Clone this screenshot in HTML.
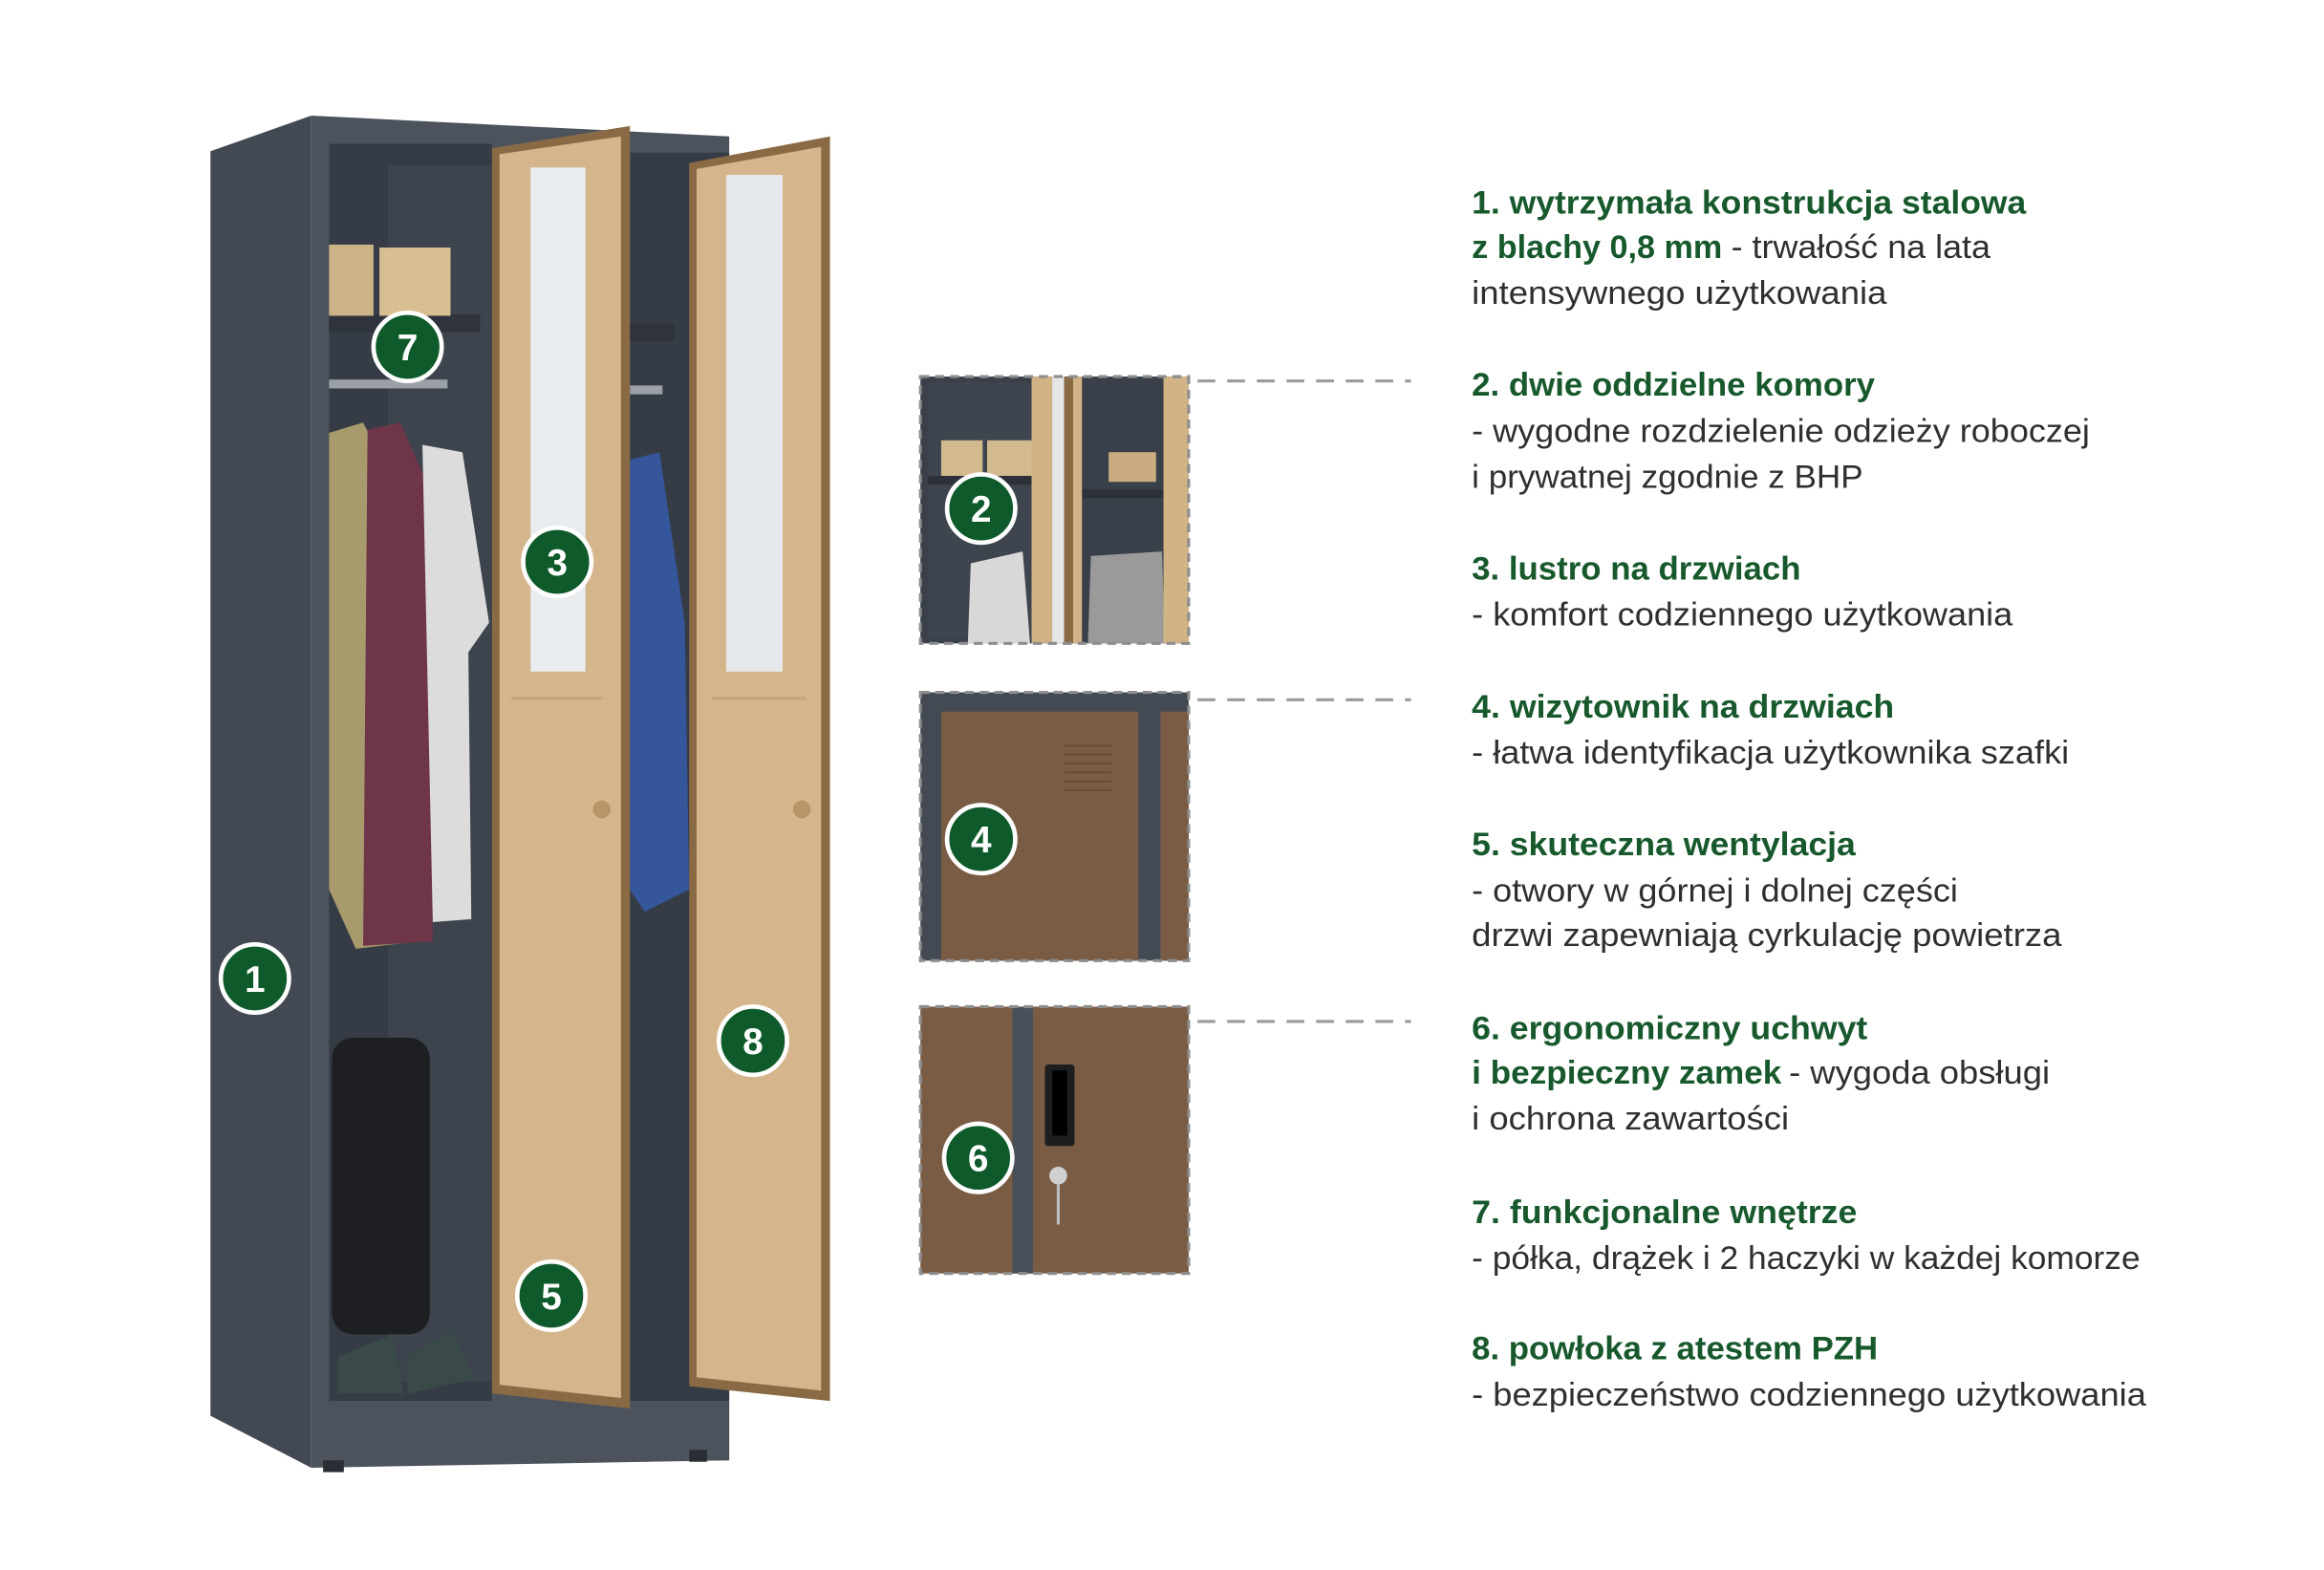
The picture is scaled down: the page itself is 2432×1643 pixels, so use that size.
<!DOCTYPE html>
<html><head><meta charset="utf-8"><style>
html,body{margin:0;padding:0;background:#fff;}
svg{display:block;}
.g{font-family:"Liberation Sans",sans-serif;font-weight:bold;fill:#17592c;font-size:22px;}
.n{font-family:"Liberation Sans",sans-serif;fill:#2f2f2f;font-size:22px;}
.b text{font-family:"Liberation Sans",sans-serif;font-weight:bold;fill:#fff;font-size:25px;text-anchor:middle;}
</style></head><body>
<svg width="2432" height="1643" viewBox="0 0 1568 1059" preserveAspectRatio="none" xmlns="http://www.w3.org/2000/svg">
<rect width="1568" height="1059" fill="#fff"/>
<!-- cabinet -->
<polygon points="142,102 210,78 210,990 142,955" fill="#434953"/>
<polygon points="210,78 492,92 492,985 210,990" fill="#4c535d"/>
<rect x="222" y="97" width="110" height="848" fill="#363c45"/>
<rect x="262" y="112" width="70" height="820" fill="#3e444d"/>
<rect x="425" y="103" width="67" height="842" fill="#363c45"/>
<rect x="222" y="945" width="270" height="40" fill="#4c535d"/>
<rect x="222" y="212" width="102" height="12" fill="#2f343c"/>
<rect x="425" y="218" width="30" height="12" fill="#2f343c"/>
<rect x="222" y="165" width="30" height="48" fill="#cdb488"/>
<rect x="256" y="167" width="48" height="46" fill="#d8bf92"/>
<rect x="222" y="256" width="80" height="6" fill="#9aa0a6"/>
<rect x="425" y="260" width="22" height="6" fill="#9aa0a6"/>
<polygon points="222,292 245,285 268,330 282,635 240,640 222,600" fill="#a79a6c"/>
<polygon points="248,290 270,285 290,330 292,635 245,638" fill="#6e3648"/>
<polygon points="285,300 312,305 330,420 316,440 318,620 292,622" fill="#dcdcdc"/>
<polygon points="425,310 445,305 462,420 465,600 435,615 425,600" fill="#35569a"/>
<rect x="224" y="700" width="66" height="200" rx="14" fill="#1d1f22"/>
<polygon points="228,915 265,900 272,940 228,940" fill="#3a4a48"/>
<polygon points="275,915 305,897 320,930 275,940" fill="#3a4a48"/>
<rect x="218" y="985" width="14" height="8" fill="#2a2e34"/>
<rect x="465" y="978" width="12" height="8" fill="#2a2e34"/>
<!-- door 1 -->
<polygon points="332,100 425,85 425,950 332,940" fill="#8a6a45"/>
<polygon points="337,104 419,92 419,943 337,934" fill="#d5b68c"/>
<rect x="358" y="113" width="37" height="340" fill="#e9ecee"/>
<rect x="345" y="470" width="62" height="2" fill="#c6a77d"/>
<circle cx="406" cy="546" r="6" fill="#b89467"/>
<!-- door 2 -->
<polygon points="465,110 560,92 560,945 465,935" fill="#8a6a45"/>
<polygon points="470,114 554,99 554,938 470,929" fill="#d5b68c"/>
<rect x="490" y="118" width="38" height="335" fill="#e6e9ec"/>
<rect x="480" y="470" width="64" height="2" fill="#c6a77d"/>
<circle cx="541" cy="546" r="6" fill="#b89467"/>
<!-- box 2 -->
<rect x="621" y="254" width="181" height="180" fill="#3a4049"/>
<rect x="626" y="258" width="70" height="172" fill="#3f454e"/>
<rect x="635" y="297" width="28" height="24" fill="#d2b98e"/>
<rect x="666" y="297" width="30" height="24" fill="#d2b98e"/>
<rect x="626" y="321" width="70" height="6" fill="#2d323a"/>
<rect x="730" y="330" width="55" height="6" fill="#2d323a"/>
<rect x="748" y="305" width="32" height="20" fill="#c9ad80"/>
<polygon points="655,380 690,372 695,434 653,434" fill="#d8d8d8"/>
<polygon points="736,375 784,372 786,434 734,434" fill="#9a9a9a"/>
<rect x="696" y="254" width="16" height="180" fill="#d2b386"/>
<rect x="710" y="254" width="8" height="180" fill="#e4e6e8"/>
<rect x="718" y="254" width="6" height="180" fill="#8a6a45"/>
<rect x="724" y="254" width="6" height="180" fill="#d2b386"/>
<rect x="785" y="254" width="17" height="180" fill="#d2b386"/>
<rect x="621" y="254" width="181" height="180" fill="none" stroke="#8d8d8d" stroke-width="2" stroke-dasharray="6 4"/>
<!-- box 4 -->
<rect x="621" y="467" width="181" height="181" fill="#444a53"/>
<rect x="635" y="480" width="133" height="168" fill="#7a5c45"/>
<rect x="783" y="480" width="19" height="168" fill="#7a5c45"/>
<g stroke="#67492f" stroke-width="1.2"><line x1="718" y1="503" x2="750" y2="503"/><line x1="718" y1="509" x2="750" y2="509"/><line x1="718" y1="515" x2="750" y2="515"/><line x1="718" y1="521" x2="750" y2="521"/><line x1="718" y1="527" x2="750" y2="527"/><line x1="718" y1="533" x2="750" y2="533"/></g>
<rect x="621" y="467" width="181" height="181" fill="none" stroke="#8d8d8d" stroke-width="2" stroke-dasharray="6 4"/>
<!-- box 6 -->
<rect x="621" y="679" width="181" height="180" fill="#7a5c45"/>
<rect x="683" y="679" width="14" height="180" fill="#4a5059"/>
<rect x="705" y="718" width="20" height="55" rx="2" fill="#1e1e1e"/>
<rect x="710" y="722" width="10" height="44" fill="#000"/>
<circle cx="714" cy="793" r="6" fill="#d0d0d0"/>
<line x1="714" y1="799" x2="714" y2="826" stroke="#bdbdbd" stroke-width="2"/>
<rect x="621" y="679" width="181" height="180" fill="none" stroke="#8d8d8d" stroke-width="2" stroke-dasharray="6 4"/>
<!-- dashed leaders -->
<g stroke="#9a9a9a" stroke-width="2" stroke-dasharray="12 8"><line x1="808" y1="257" x2="952" y2="257"/><line x1="808" y1="472" x2="952" y2="472"/><line x1="808" y1="689" x2="952" y2="689"/></g>
<!-- badges -->
<g class="b">
<g transform="translate(275,234)"><circle r="23" fill="#0f5a2b" stroke="#fff" stroke-width="3"/><text y="9">7</text></g>
<g transform="translate(376,379)"><circle r="23" fill="#0f5a2b" stroke="#fff" stroke-width="3"/><text y="9">3</text></g>
<g transform="translate(172,660)"><circle r="23" fill="#0f5a2b" stroke="#fff" stroke-width="3"/><text y="9">1</text></g>
<g transform="translate(372,874)"><circle r="23" fill="#0f5a2b" stroke="#fff" stroke-width="3"/><text y="9">5</text></g>
<g transform="translate(508,702)"><circle r="23" fill="#0f5a2b" stroke="#fff" stroke-width="3"/><text y="9">8</text></g>
<g transform="translate(662,343)"><circle r="23" fill="#0f5a2b" stroke="#fff" stroke-width="3"/><text y="9">2</text></g>
<g transform="translate(662,566)"><circle r="23" fill="#0f5a2b" stroke="#fff" stroke-width="3"/><text y="9">4</text></g>
<g transform="translate(660,781)"><circle r="23" fill="#0f5a2b" stroke="#fff" stroke-width="3"/><text y="9">6</text></g>
</g>
<!-- text -->
<text class="g" x="993" y="144" textLength="374" lengthAdjust="spacingAndGlyphs">1. wytrzymała konstrukcja stalowa</text>
<text class="g" x="993" y="174" textLength="169" lengthAdjust="spacingAndGlyphs">z blachy 0,8 mm</text>
<text class="n" x="1168" y="174" textLength="175" lengthAdjust="spacingAndGlyphs">- trwałość na lata</text>
<text class="n" x="993" y="205" textLength="280" lengthAdjust="spacingAndGlyphs">intensywnego użytkowania</text>
<text class="g" x="993" y="267" textLength="272" lengthAdjust="spacingAndGlyphs">2. dwie oddzielne komory</text>
<text class="n" x="993" y="298" textLength="417" lengthAdjust="spacingAndGlyphs">- wygodne rozdzielenie odzieży roboczej</text>
<text class="n" x="993" y="329" textLength="264" lengthAdjust="spacingAndGlyphs">i prywatnej zgodnie z BHP</text>
<text class="g" x="993" y="391" textLength="222" lengthAdjust="spacingAndGlyphs">3. lustro na drzwiach</text>
<text class="n" x="993" y="422" textLength="365" lengthAdjust="spacingAndGlyphs">- komfort codziennego użytkowania</text>
<text class="g" x="993" y="484" textLength="285" lengthAdjust="spacingAndGlyphs">4. wizytownik na drzwiach</text>
<text class="n" x="993" y="515" textLength="403" lengthAdjust="spacingAndGlyphs">- łatwa identyfikacja użytkownika szafki</text>
<text class="g" x="993" y="577" textLength="259" lengthAdjust="spacingAndGlyphs">5. skuteczna wentylacja</text>
<text class="n" x="993" y="608" textLength="328" lengthAdjust="spacingAndGlyphs">- otwory w górnej i dolnej części</text>
<text class="n" x="993" y="638" textLength="398" lengthAdjust="spacingAndGlyphs">drzwi zapewniają cyrkulację powietrza</text>
<text class="g" x="993" y="701" textLength="267" lengthAdjust="spacingAndGlyphs">6.  ergonomiczny uchwyt</text>
<text class="g" x="993" y="731" textLength="209" lengthAdjust="spacingAndGlyphs">i bezpieczny zamek</text>
<text class="n" x="1207" y="731" textLength="176" lengthAdjust="spacingAndGlyphs">- wygoda obsługi</text>
<text class="n" x="993" y="762" textLength="214" lengthAdjust="spacingAndGlyphs">i ochrona zawartości</text>
<text class="g" x="993" y="825" textLength="260" lengthAdjust="spacingAndGlyphs">7.  funkcjonalne wnętrze</text>
<text class="n" x="993" y="856" textLength="451" lengthAdjust="spacingAndGlyphs">- półka, drążek i 2 haczyki w każdej komorze</text>
<text class="g" x="993" y="917" textLength="274" lengthAdjust="spacingAndGlyphs">8. powłoka z atestem PZH</text>
<text class="n" x="993" y="948" textLength="455" lengthAdjust="spacingAndGlyphs">- bezpieczeństwo codziennego użytkowania</text>
</svg>
</body></html>
